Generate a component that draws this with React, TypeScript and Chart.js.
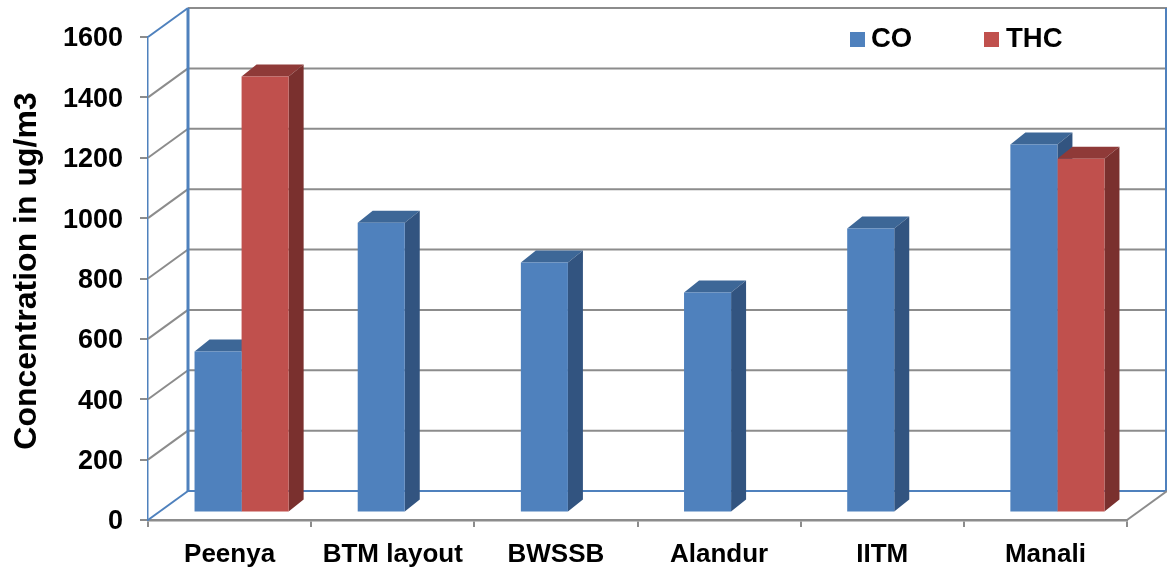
import React, { useEffect, useRef } from "react";
import { Chart, registerables } from "chart.js";

Chart.register(...registerables);

const categories = ["Peenya", "BTM layout", "BWSSB", "Alandur", "IITM", "Manali"];
const coValues = [533, 960, 828, 729, 941, 1219];
const thcValues: (number | null)[] = [1444, null, null, null, null, 1172];
const yTicks = [0, 200, 400, 600, 800, 1000, 1200, 1400, 1600];
const yTitle = "Concentration in ug/m3";

const FONT = '"Liberation Sans", Arial, sans-serif';
const BLUE_LINE = "#4F81BD";
const GRAY_LINE = "#8C8C8C";

// Pseudo-3D projection offsets (pixels)
const WALL_DX = 40;
const WALL_DY = -29;
const BAR_DX = 12;
const BAR_DY = -7.5;
const DEPTH_DX = 15;
const DEPTH_DY = -12;

const palette = [
  { front: "#4F81BD", top: "#3D6797", side: "#325480" },
  { front: "#C0504D", top: "#8F3A38", side: "#7A302E" },
];

function line(ctx: CanvasRenderingContext2D, pts: number[][], color: string, width: number) {
  ctx.beginPath();
  ctx.moveTo(pts[0][0], pts[0][1]);
  pts.slice(1).forEach((p) => ctx.lineTo(p[0], p[1]));
  ctx.strokeStyle = color;
  ctx.lineWidth = width;
  ctx.stroke();
}

function poly(ctx: CanvasRenderingContext2D, pts: number[][], color: string) {
  ctx.beginPath();
  ctx.moveTo(pts[0][0], pts[0][1]);
  pts.slice(1).forEach((p) => ctx.lineTo(p[0], p[1]));
  ctx.closePath();
  ctx.fillStyle = color;
  ctx.fill();
}

const threeD = {
  id: "threeD",
  beforeDatasetsDraw(chart: any) {
    const { ctx, chartArea: a, scales } = chart;
    const y = scales.y;
    ctx.save();
    // Side wall and back wall lines, from the y scale
    yTicks.forEach((t) => {
      const py = y.getPixelForValue(t);
      const isFloor = t === 0;
      const isTop = t === yTicks[yTicks.length - 1];
      line(ctx, [[a.left, py], [a.left + WALL_DX, py + WALL_DY]], isFloor || isTop ? BLUE_LINE : GRAY_LINE, 2);
      line(ctx, [[a.left + WALL_DX, py + WALL_DY], [a.right + WALL_DX, py + WALL_DY]], isFloor ? BLUE_LINE : GRAY_LINE, 2);
    });
    const top = y.getPixelForValue(yTicks[yTicks.length - 1]) + WALL_DY;
    const bottom = y.getPixelForValue(0) + WALL_DY;
    line(ctx, [[a.left + WALL_DX, top], [a.left + WALL_DX, bottom]], BLUE_LINE, 3);
    line(ctx, [[a.right + WALL_DX - 1, top], [a.right + WALL_DX - 1, bottom]], BLUE_LINE, 2);
    line(ctx, [[a.right, a.bottom], [a.right + WALL_DX, a.bottom + WALL_DY]], GRAY_LINE, 2);

    // Legend
    ctx.font = `bold 27.5px ${FONT}`;
    ctx.textBaseline = "middle";
    ctx.textAlign = "left";
    const legendX = [[850, 871], [984, 1006]];
    chart.data.datasets.forEach((ds: any, i: number) => {
      ctx.fillStyle = palette[i].front;
      ctx.fillRect(legendX[i][0], 32, 15, 15);
      ctx.fillStyle = "#000";
      ctx.fillText(ds.label, legendX[i][1], 39);
    });

    // Y title
    ctx.save();
    ctx.translate(27, 271);
    ctx.rotate(-Math.PI / 2);
    ctx.textAlign = "center";
    ctx.font = `bold 32px ${FONT}`;
    ctx.fillStyle = "#000";
    ctx.fillText(yTitle, 0, 0);
    ctx.restore();

    // Move into the bars' depth plane; fronts are drawn by the library
    ctx.save();
    ctx.translate(BAR_DX, BAR_DY);
    chart.data.datasets.forEach((ds: any, i: number) => {
      const meta = chart.getDatasetMeta(i);
      meta.data.forEach((el: any, j: number) => {
        if (ds.data[j] == null) return;
        const { x, y: ty, base, width } = el.getProps(["x", "y", "base", "width"], true);
        const l = x - width / 2;
        const r = x + width / 2;
        poly(ctx, [[l, ty], [r, ty], [r + DEPTH_DX, ty + DEPTH_DY], [l + DEPTH_DX, ty + DEPTH_DY]], palette[i].top);
        poly(ctx, [[r, ty], [r + DEPTH_DX, ty + DEPTH_DY], [r + DEPTH_DX, base + DEPTH_DY], [r, base]], palette[i].side);
      });
    });
  },
  afterDatasetsDraw(chart: any) {
    chart.ctx.restore();
    chart.ctx.restore();
  },
};

export default function App() {
  const ref = useRef<HTMLCanvasElement | null>(null);
  useEffect(() => {
    const chart = new Chart(ref.current as HTMLCanvasElement, {
      type: "bar",
      data: {
        labels: categories,
        datasets: [
          { label: "CO", data: coValues, backgroundColor: palette[0].front, clip: false } as any,
          { label: "THC", data: thcValues, backgroundColor: palette[1].front, clip: false } as any,
        ],
      },
      options: {
        responsive: false,
        animation: false,
        devicePixelRatio: 1,
        layout: { padding: { top: 37, right: 40, left: 0, bottom: 0 } },
        plugins: { legend: { display: false }, title: { display: false }, tooltip: { enabled: false } },
        datasets: { bar: { categoryPercentage: 94 / 163, barPercentage: 1 } },
        scales: {
          x: {
            afterFit: (s: any) => { s.height = 50; },
            grid: { drawOnChartArea: false, drawTicks: true, tickLength: 7, color: GRAY_LINE, lineWidth: 2 },
            border: { color: GRAY_LINE, width: 2.5 },
            ticks: { color: "#000", font: { family: FONT, size: 26, weight: "bold" }, padding: 12, maxRotation: 0, autoSkip: false },
          },
          y: {
            min: 0,
            max: 1600,
            afterBuildTicks: (s: any) => { s.ticks = yTicks.map((v) => ({ value: v })); },
            afterFit: (s: any) => { s.width = 148; },
            grid: { drawOnChartArea: false, drawTicks: true, tickLength: 8, color: GRAY_LINE, lineWidth: 2 },
            border: { color: BLUE_LINE, width: 1.5 },
            ticks: {
              color: "#000",
              font: { family: FONT, size: 27, weight: "bold" },
              padding: 17,
              labelOffset: 2,
              callback: (v: any) => String(v),
            },
          },
        },
      },
      plugins: [threeD],
    } as any);
    return () => chart.destroy();
  }, []);
  return (
    <div style={{ position: "absolute", left: 0, top: 0, width: 1167, height: 570, background: "#fff" }}>
      <canvas ref={ref} width={1167} height={570} style={{ display: "block", width: 1167, height: 570 }} />
    </div>
  );
}
